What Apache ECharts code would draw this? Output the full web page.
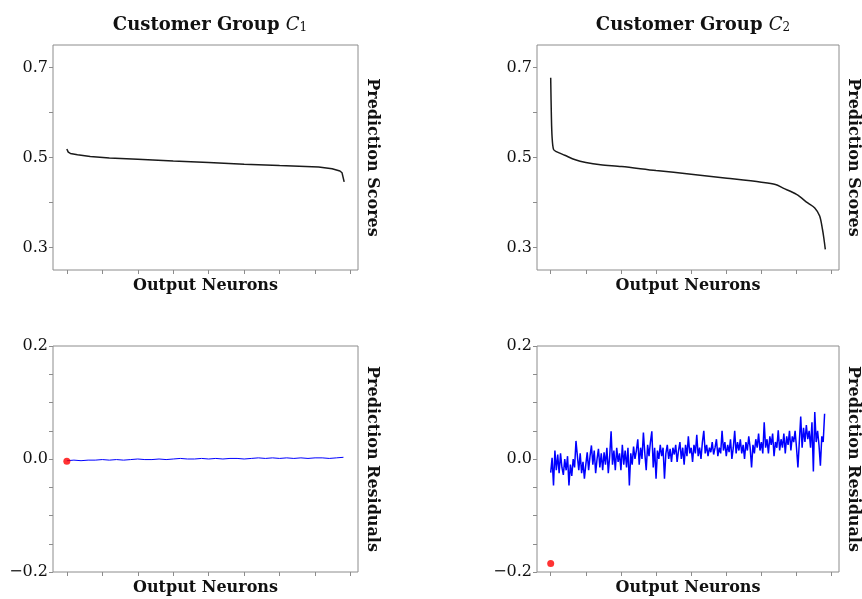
<!DOCTYPE html>
<html lang="en">
<head>
<meta charset="UTF-8">
<title>Prediction scores and residuals</title>
<script src="https://cdn.jsdelivr.net/npm/echarts@6/dist/echarts.min.js"></script>
<style>
    html, body { margin: 0; padding: 0; background: #fff; }
    #main { width: 862px; height: 599px; }
</style>
</head>
<body>
<div id="main"></div>
<script>
// neuron axis
var xTicks = [0, 50, 100, 150, 200, 250, 300, 350, 400];
var xMin = -19.5, xMax = 410.5;

// prediction scores (sorted) at these neuron indices
var c1ScoreIdx = [0, 2, 5, 15, 33, 60, 100, 150, 200, 250, 300, 355, 374, 385, 388, 390, 391];
var c1Scores   = [0.519, 0.512, 0.509, 0.506, 0.502, 0.499, 0.496, 0.492, 0.489, 0.485, 0.482, 0.479, 0.475, 0.470, 0.466, 0.462, 0.446];
var c2ScoreIdx = [0, 1, 2, 4, 8, 20, 35, 50, 71, 101, 150, 200, 251, 300, 320, 331, 350, 366, 376, 383, 387, 389, 391];
var c2Scores   = [0.677, 0.59, 0.545, 0.518, 0.513, 0.505, 0.495, 0.489, 0.484, 0.480, 0.471, 0.463, 0.454, 0.445, 0.440, 0.432, 0.418, 0.399, 0.388, 0.370, 0.340, 0.320, 0.296];

// residuals, sampled every 10 neurons (C1) and every 2 neurons (C2)
var c1ResStep = 10;
var c1Residuals = [-0.003, -0.002, -0.003, -0.002, -0.002, -0.001, -0.002, -0.001, -0.002, -0.001,
    0.0, -0.001, -0.001, 0.0, -0.001, 0.0, 0.001, 0.0, 0.0, 0.001,
    0.0, 0.001, 0.0, 0.001, 0.001, 0.0, 0.001, 0.002, 0.001, 0.002,
    0.001, 0.002, 0.001, 0.002, 0.001, 0.002, 0.002, 0.001, 0.002, 0.003];
var c2ResStep = 2;
var c2Residuals = [
    -0.024, 0.002, -0.047, 0.015, -0.02, 0.008, -0.025, 0.01, -0.015, -0.028, 0.0, -0.02, 0.005, -0.047,
    -0.01, -0.03, 0.0, -0.015, 0.032, 0.005, -0.02, 0.01, -0.025, -0.005, -0.035, -0.01, 0.012, -0.02,
    0.005, 0.024, -0.01, 0.015, -0.025, 0.0, 0.018, -0.015, 0.01, -0.02, 0.012, -0.01, 0.02, -0.025,
    0.005, 0.049, -0.01, 0.015, -0.02, 0.02, -0.005, 0.01, -0.02, 0.025, -0.01, 0.015, -0.015, 0.02,
    -0.047, 0.01, -0.01, 0.022, 0.0, 0.015, 0.035, -0.01, 0.02, 0.0, 0.047, 0.01, -0.02, 0.025,
    0.005, 0.03, 0.049, -0.015, 0.02, -0.035, 0.015, 0.0, 0.025, 0.005, 0.02, -0.035, 0.01, 0.025,
    0.0, 0.018, -0.005, 0.02, 0.008, 0.025, -0.005, 0.015, 0.03, 0.0, 0.02, -0.01, 0.025, 0.005,
    0.04, 0.01, 0.02, -0.005, 0.025, 0.01, 0.043, 0.005, 0.02, 0.0, 0.03, 0.05, 0.01, 0.025,
    0.005, 0.02, 0.012, 0.03, 0.008, 0.02, 0.035, 0.005, 0.02, 0.01, 0.05, 0.015, 0.03, 0.005,
    0.025, 0.012, 0.035, 0.0, 0.02, 0.05, 0.01, 0.03, 0.015, 0.035, 0.01, 0.025, 0.0, 0.03,
    0.015, 0.04, 0.02, -0.015, 0.025, 0.01, 0.035, 0.02, 0.045, 0.015, 0.03, 0.01, 0.065, 0.02,
    0.035, 0.01, 0.04, 0.025, 0.045, 0.005, 0.03, 0.02, 0.051, 0.015, 0.035, 0.02, 0.045, 0.01,
    0.04, 0.025, 0.05, 0.015, 0.04, 0.03, 0.05, 0.02, -0.015, 0.03, 0.075, 0.02, 0.055, 0.03,
    0.06, 0.035, 0.05, 0.02, 0.065, -0.022, 0.083, 0.03, 0.05, 0.025, -0.012, 0.04, 0.03, 0.08];
// first neuron's residual, marked in red
var firstResidual = [-0.004, -0.185];

var scoreTicks = [0.3, 0.4, 0.5, 0.6, 0.7];
var scoreLabels = [0.3, 0.5, 0.7];
var residualTicks = [-0.2, -0.15, -0.1, -0.05, 0, 0.05, 0.1, 0.15, 0.2];
var residualLabels = [-0.2, 0, 0.2];

var titles = ['Customer Group ', 'Customer Group '];
var titleSub = ['1', '2'];

var FONT = 'DejaVu Serif';
var FRAME = '#8c8c8c';

function pairs(idx, vals) {
    return vals.map(function (v, i) { return [idx[i], v]; });
}
function stepPairs(step, vals) {
    return vals.map(function (v, i) { return [i * step, v]; });
}
function fmt(v) {
    return (v < 0 ? '\u2212' : '') + Math.abs(v).toFixed(1);
}

var grids = [
    {left: 53, top: 45, width: 305, height: 225},
    {left: 537, top: 45, width: 302, height: 225},
    {left: 53, top: 346, width: 305, height: 226},
    {left: 537, top: 346, width: 302, height: 226}
];
grids.forEach(function (g) {
    g.show = true;
    g.borderColor = FRAME;
    g.borderWidth = 1;
    g.backgroundColor = 'transparent';
});

var xAxes = [], yAxes = [];
for (var i = 0; i < 4; i++) {
    var isScore = i < 2;
    xAxes.push({
        type: 'value', gridIndex: i, min: xMin, max: xMax, position: 'bottom',
        axisLine: {show: false, onZero: false},
        axisTick: {show: true, customValues: xTicks, length: 4, lineStyle: {color: FRAME}},
        axisLabel: {show: false},
        splitLine: {show: false},
        name: 'Output Neurons', nameLocation: 'middle', nameGap: 8,
        nameTextStyle: {fontFamily: FONT, fontWeight: 'bold', fontSize: 16, color: '#111'}
    });
    yAxes.push({
        type: 'value', gridIndex: i, position: 'left',
        min: isScore ? 0.25 : -0.2, max: isScore ? 0.75 : 0.2,
        axisLine: {show: false, onZero: false},
        axisTick: {show: true, customValues: isScore ? scoreTicks : residualTicks, length: 4, lineStyle: {color: FRAME}},
        axisLabel: {show: true, customValues: isScore ? scoreLabels : residualLabels, formatter: fmt,
            margin: 5, fontFamily: FONT, fontSize: 16, color: '#111'},
        splitLine: {show: false}
    });
    yAxes.push({
        type: 'value', gridIndex: i, position: 'right',
        min: isScore ? 0.25 : -0.2, max: isScore ? 0.75 : 0.2,
        axisLine: {show: false, onZero: false}, axisTick: {show: false}, axisLabel: {show: false}, splitLine: {show: false},
        name: isScore ? 'Prediction Scores' : 'Prediction Residuals',
        nameLocation: 'middle', nameRotate: -90, nameGap: 6,
        nameTextStyle: {fontFamily: FONT, fontWeight: 'bold', fontSize: 16, color: '#111'}
    });
}

var titleRich = {
    b: {fontFamily: FONT, fontWeight: 'bold', fontSize: 18, color: '#111'},
    i: {fontFamily: FONT, fontStyle: 'italic', fontWeight: 'normal', fontSize: 18, color: '#111'},
    s: {fontFamily: FONT, fontWeight: 'normal', fontSize: 12, color: '#111', verticalAlign: 'bottom', lineHeight: 12}
};

var option = {
    backgroundColor: '#fff',
    animation: false,
    title: [
        {text: '{b|' + titles[0] + '}{i|C}{s|' + titleSub[0] + '}', left: 205, top: 11, textAlign: 'center',
            textStyle: {rich: titleRich}},
        {text: '{b|' + titles[1] + '}{i|C}{s|' + titleSub[1] + '}', left: 688, top: 11, textAlign: 'center',
            textStyle: {rich: titleRich}}
    ],
    grid: grids,
    xAxis: xAxes,
    yAxis: yAxes,
    series: [
        {type: 'line', xAxisIndex: 0, yAxisIndex: 0, data: pairs(c1ScoreIdx, c1Scores),
            showSymbol: false, lineStyle: {color: '#1a1a1a', width: 1.5}},
        {type: 'line', xAxisIndex: 1, yAxisIndex: 2, data: pairs(c2ScoreIdx, c2Scores),
            showSymbol: false, smooth: 0.3, lineStyle: {color: '#1a1a1a', width: 1.5}},
        {type: 'line', xAxisIndex: 2, yAxisIndex: 4, data: stepPairs(c1ResStep, c1Residuals),
            showSymbol: false, lineStyle: {color: '#0000ff', width: 1}},
        {type: 'line', xAxisIndex: 3, yAxisIndex: 6, data: stepPairs(c2ResStep, c2Residuals),
            showSymbol: false, lineStyle: {color: '#0000ff', width: 1.5}},
        {type: 'scatter', xAxisIndex: 2, yAxisIndex: 4, data: [[0, firstResidual[0]]],
            symbolSize: 7, itemStyle: {color: '#ff0000'}, z: 5},
        {type: 'scatter', xAxisIndex: 3, yAxisIndex: 6, data: [[0, firstResidual[1]]],
            symbolSize: 7, itemStyle: {color: '#ff0000'}, z: 5}
    ]
};

var chart = echarts.init(document.getElementById('main'));
chart.setOption(option);
</script>
</body>
</html>
